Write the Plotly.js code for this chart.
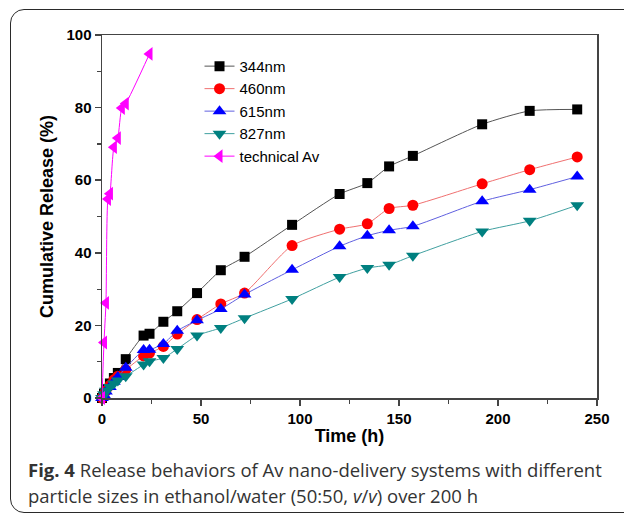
<!DOCTYPE html>
<html>
<head>
<meta charset="utf-8">
<script src="https://cdn.plot.ly/plotly-3.0.1.min.js"></script>
<style>
  html, body { margin: 0; padding: 0; background: #ffffff; }
  #frame { position: absolute; left: 10px; top: 9px; width: 700px; height: 502px;
           border: 1.6px solid #2a2a2a; border-radius: 14px; }
  #chart { position: absolute; left: 0; top: 0; width: 624px; height: 514px; }
</style>
</head>
<body>
<div id="frame"></div>
<div id="chart"></div>
<script>
// Time points (h) for the nano-delivery systems
const timeNano = [0, 1, 2, 4, 6, 8, 12, 21, 24, 31, 38, 48, 60, 72, 96, 120, 134, 145, 157, 192, 216, 240];
const release344 = [0, 1.2, 2.5, 4, 5.5, 6.9, 10.7, 17.2, 17.7, 21, 23.9, 28.9, 35.2, 38.9, 47.7, 56.2, 59.2, 63.8, 66.7, 75.4, 79.1, 79.5];
const release460 = [0, 1, 2, 3.5, 5, 6, 7.8, 11.6, 12.4, 14.2, 17.6, 21.6, 25.9, 28.9, 42, 46.5, 48, 52.2, 53.1, 59, 62.9, 66.4];
const release615 = [0, 0.8, 1.8, 3, 4.5, 5.8, 8.3, 13.2, 13.3, 14.9, 18.5, 21.4, 24.5, 28.5, 35.3, 41.8, 44.7, 46.2, 47.3, 54.2, 57.4, 61];
const release827 = [0, 1, 2, 3, 4, 4.8, 6, 9.2, 10.1, 11, 13.5, 17.2, 19.3, 22, 27.3, 33.3, 35.8, 36.7, 39.2, 45.9, 48.8, 53.1];
// Technical Av
const timeTech = [0, 1, 2, 3, 4, 6, 8, 10, 12, 24];
const releaseTech = [0, 15.3, 26.2, 54.8, 56.3, 69.1, 71.6, 79.9, 81.1, 94.8];

const xTickVals = [0, 50, 100, 150, 200, 250];
const yTickVals = [0, 20, 40, 60, 80, 100];

function series(name, x, y, lineColor, markerColor, symbol, size) {
  return {
    type: 'scatter', mode: 'lines+markers', name: name, x: x, y: y,
    line: { color: lineColor, width: 1, shape: 'spline', smoothing: 0.6 },
    marker: { color: markerColor, symbol: symbol, size: size, line: { width: 0 } },
    cliponaxis: false
  };
}

const data = [
  series('344nm', timeNano, release344, '#555555', '#000000', 'square', 10),
  series('460nm', timeNano, release460, '#f07070', '#ff0000', 'circle', 11),
  series('615nm', timeNano, release615, '#6060e0', '#0000ff', 'triangle-up', 12),
  series('827nm', timeNano, release827, '#40a0a0', '#008080', 'triangle-down', 12),
  series('technical Av', timeTech, releaseTech, '#ff00ff', '#ff00ff', 'triangle-left', 12)
];

const capFont = { family: 'Open Sans, sans-serif', size: 18.5, color: '#333333' };
const arial = 'Liberation Sans, Arial, sans-serif';

const layout = {
  width: 624, height: 514,
  margin: { l: 102, r: 27, t: 35, b: 116 },
  paper_bgcolor: 'rgba(0,0,0,0)',
  plot_bgcolor: '#ffffff',
  showlegend: true,
  legend: {
    x: 0.197, y: 0.959, xanchor: 'left', yanchor: 'top',
    bgcolor: 'rgba(0,0,0,0)',
    font: { family: arial, size: 15, color: '#000000' },
    tracegroupgap: 0, itemwidth: 30
  },
  xaxis: {
    range: [0, 250], tickvals: xTickVals, ticks: 'outside', ticklen: 6, tickwidth: 1.5,
    tickcolor: '#444', linecolor: '#444', linewidth: 1.5, mirror: true,
    showgrid: false, zeroline: false,
    minor: { dtick: 25, ticks: 'outside', ticklen: 4, tickwidth: 1.2, tickcolor: '#444', showgrid: false },
    tickfont: { family: arial, size: 15, color: '#000', weight: 'bold' },
    title: { text: '<b>Time (h)</b>', standoff: 4,
             font: { family: arial, size: 18, color: '#000' } }
  },
  yaxis: {
    range: [0, 100], tickvals: yTickVals, ticks: 'outside', ticklen: 6, tickwidth: 1.5,
    tickcolor: '#444', linecolor: '#444', linewidth: 1.5, mirror: true,
    showgrid: false, zeroline: false,
    minor: { dtick: 10, ticks: 'outside', ticklen: 4, tickwidth: 1.2, tickcolor: '#444', showgrid: false },
    tickfont: { family: arial, size: 15, color: '#000', weight: 'bold' },
    title: { text: '<b>Cumulative Release (%)</b>', standoff: 8,
             font: { family: arial, size: 18, color: '#000' } }
  },
  annotations: [
    { xref: 'paper', yref: 'paper', x: -0.154, y: -0.198, xanchor: 'left', yanchor: 'middle',
      text: '<b>Fig. 4</b> Release behaviors of Av nano-delivery systems with different',
      showarrow: false, font: capFont },
    { xref: 'paper', yref: 'paper', x: -0.154, y: -0.269, xanchor: 'left', yanchor: 'middle',
      text: 'particle sizes in ethanol/water (50:50, <i>v</i>/<i>v</i>) over 200 h',
      showarrow: false, font: capFont }
  ]
};

Plotly.newPlot('chart', data, layout, { displayModeBar: false, staticPlot: true });
</script>
</body>
</html>
